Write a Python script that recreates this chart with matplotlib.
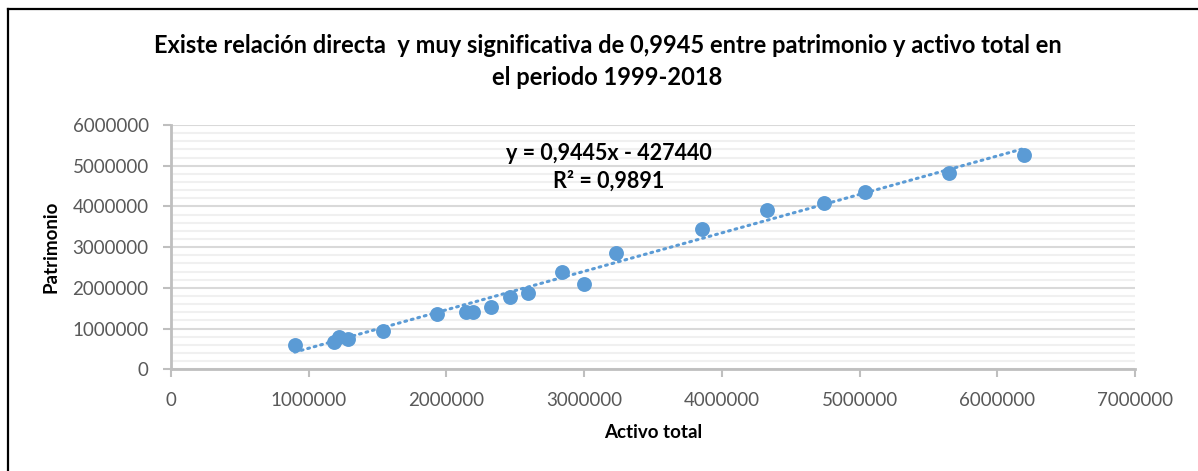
import matplotlib
matplotlib.use("Agg")
import matplotlib.pyplot as plt
from matplotlib.lines import Line2D
from matplotlib.ticker import MultipleLocator
import numpy as np

# data (activo total vs patrimonio, 1999-2018)
activo_total = [899000, 1181000, 1222000, 1283000, 1538000, 1930000, 2146000, 2194000,
                2323000, 2462000, 2590000, 2839000, 3000000, 3231000, 3853000, 4325000,
                4742000, 5039000, 5653000, 6194000]
patrimonio = [597000, 663000, 802000, 736000, 949000, 1367000, 1416000, 1416000,
              1538000, 1768000, 1866000, 2381000, 2095000, 2848000, 3445000, 3912000,
              4092000, 4345000, 4828000, 5262000]
slope = 0.9445
intercept = -427440
r2 = 0.9891

blue = "#5B9BD5"
plt.rcParams['font.family'] = ['Lato', 'DejaVu Sans']

fig = plt.figure(figsize=(11.98, 4.71), dpi=100)
ax = fig.add_axes([0.1427, 0.2159, 0.8047, 0.5187])

ax.scatter(activo_total, patrimonio, s=115, color=blue, zorder=3, linewidths=0)

xt = np.array([min(activo_total), max(activo_total)])
ax.plot(xt, slope * xt + intercept, color=blue, lw=2.2, ls=(0, (0.6, 1.6)),
        dash_capstyle='round', zorder=2)

ax.set_xlim(0, 7000000)
ax.set_ylim(0, 6000000)
ax.xaxis.set_major_locator(MultipleLocator(1000000))
ax.yaxis.set_major_locator(MultipleLocator(1000000))
ax.yaxis.set_minor_locator(MultipleLocator(200000))
ax.ticklabel_format(style='plain')

ax.grid(True, which='major', axis='y', color='#d9d9d9', lw=1.5, zorder=0)
ax.grid(True, which='minor', axis='y', color='#f0f0f0', lw=1.5, zorder=0)
ax.set_axisbelow(True)

for s in ['top', 'right']:
    ax.spines[s].set_visible(False)
for s in ['left', 'bottom']:
    ax.spines[s].set_color('#bfbfbf')
    ax.spines[s].set_linewidth(2)

ax.tick_params(which='major', length=6, width=1.5, color='#bfbfbf',
               labelcolor='#595959', labelsize=13.5, pad=10)
ax.tick_params(which='minor', length=0)

ax.set_xlabel('Activo total', fontsize=13.5, fontweight='bold', labelpad=11)
ax.set_ylabel('Patrimonio', fontsize=13.5, fontweight='bold', labelpad=9)

ax.text(0.454, 0.885, f'y = {slope:.4f}x - {-intercept}'.replace('.', ','),
        transform=ax.transAxes, ha='center', va='center', fontsize=15.5, fontweight='bold')
ax.text(0.454, 0.771, f'R² = {r2:.4f}'.replace('.', ','),
        transform=ax.transAxes, ha='center', va='center', fontsize=15.5, fontweight='bold')

fig.text(0.507, 0.869, 'Existe relación directa  y muy significativa de 0,9945 entre patrimonio y activo total en\nel periodo 1999-2018',
         ha='center', va='center', fontsize=17, fontweight='bold', linespacing=1.5)

# outer chart frame (only left/top edges visible in the crop)
fig.add_artist(Line2D([8 / 1198, 8 / 1198], [0, 1 - 9 / 471], color='black', lw=1.6))
fig.add_artist(Line2D([8 / 1198, 1], [1 - 9 / 471, 1 - 9 / 471], color='black', lw=1.6))

fig.savefig('out.png', dpi=100)
